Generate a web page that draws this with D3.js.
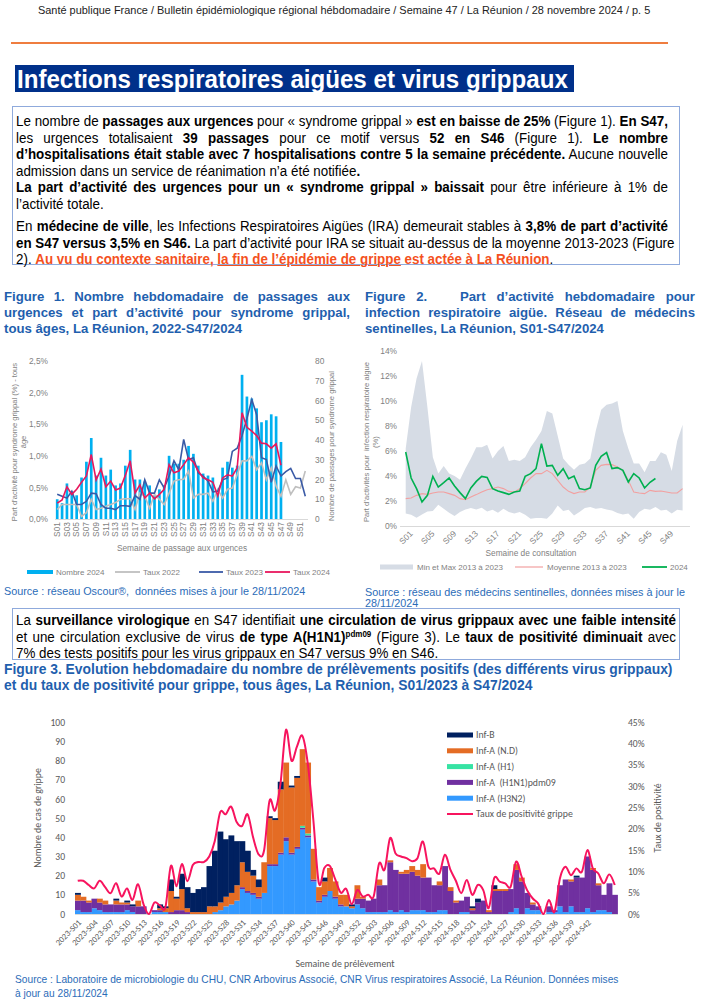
<!DOCTYPE html>
<html lang="fr">
<head>
<meta charset="utf-8">
<title>Bulletin épidémiologique La Réunion S47/2024</title>
<script src="https://cdn.jsdelivr.net/npm/d3@7"></script>
<style>
  body { margin: 0; background: #fff; }
  #page { position: relative; width: 708px; height: 1000px; overflow: hidden; }
  #page svg { position: absolute; left: 0; top: 0; }
  .ln { position: absolute; white-space: nowrap; transform-origin: 0 0; }
  .just { text-align: justify; text-align-last: justify; }
  .red { color: #f4511e; font-weight: bold; }
  sup { font-size: 0.6em; line-height: 0; vertical-align: 0.55em; }
</style>
</head>
<body>
<div id="page"></div>
<script>
// ---------- DATA ----------
const weeks52 = d3.range(1, 53).map(i => "S" + String(i).padStart(2, "0"));

// Figure 1 (Oscour)
const nombre2024 = [10,8,18,14,12,21,29,41,22,31,22,25,17,18,27,35,20,20,19,17,12,15,17,32,28,28,30,37,33,27,23,22,21,13,26,29,26,27,73,62,61,56,49,50,53,52,39];
const taux2022 = [0.15,0.23,0.23,0.23,0.23,0.04,0.10,0.31,0.15,0.17,0.20,0.23,0.26,0.31,0.32,0.32,0.15,0.41,0.36,0.17,0.39,0.31,0.23,0.41,0.60,0.62,0.63,0.76,0.33,0.39,0.39,0.41,0.28,0.47,0.33,0.47,0.49,0.70,0.92,0.92,0.99,0.78,0.89,0.62,0.81,0.52,0.36,0.62,0.39,0.51,0.49,0.76];
const taux2023 = [0.39,0.36,0.33,0.44,0.23,0.23,0.28,0.41,0.40,0.23,0.17,0.17,0.15,0.21,0.21,0.20,0.37,0.31,0.62,0.41,0.41,0.62,0.49,0.68,0.92,0.78,1.26,0.94,0.97,0.73,0.68,0.60,0.43,0.44,0.62,0.65,1.07,1.12,1.32,1.59,1.89,1.65,0.97,0.94,0.58,0.84,0.68,0.75,0.80,0.64,0.64,0.36];
const taux2024 = [0.25,0.30,0.51,0.39,0.47,0.58,0.68,1.02,0.62,0.79,0.51,0.60,0.46,0.49,0.69,0.92,0.41,0.54,0.33,0.41,0.32,0.39,0.47,0.86,0.73,0.76,0.86,0.97,0.90,0.76,0.65,0.62,0.58,0.37,0.65,0.70,0.68,0.81,1.68,1.45,1.39,1.32,1.20,1.19,1.12,1.19,0.85];

// Figure 2 (médecins sentinelles)
const maxIRA = [6.2,9.5,11.8,13.2,9.5,5.5,4.2,4.8,4.2,4.0,3.7,4.6,5.4,6.3,6.3,6.5,5.4,6.0,6.4,5.2,5.3,5.2,5.5,6.3,6.9,7.6,9.2,9.0,7.2,5.4,4.9,4.5,4.9,5.0,5.4,7.6,9.3,9.7,9.8,10.0,7.6,6.2,5.0,5.0,4.3,5.2,5.2,5.9,5.7,4.4,6.8,8.1];
const minIRA = [1.0,0.9,0.67,0.93,1.17,1.2,1.7,1.39,1.07,0.8,1.12,1.33,1.44,1.33,1.46,1.17,1.3,1.07,1.39,1.12,1.0,1.12,0.9,0.59,0.64,0.64,0.59,1.0,1.65,1.2,1.3,0.85,1.12,1.44,1.52,1.39,1.44,1.33,1.25,1.04,0.93,1.0,0.59,1.12,1.39,1.3,1.52,1.25,1.3,1.0,1.3,1.25];
const moyIRA = [2.19,2.24,2.45,2.59,2.53,2.64,2.72,2.72,2.59,2.45,2.19,2.11,2.32,2.51,2.72,2.9,2.99,3.12,2.99,2.77,2.72,2.99,3.39,3.84,4.19,4.19,4.45,4.19,3.65,3.12,2.77,2.59,2.72,2.72,3.12,4.45,4.85,4.93,4.91,4.72,4.45,3.65,2.72,2.64,2.59,2.85,2.77,2.8,2.72,2.64,2.64,2.99];
const ira2024 = [5.92,3.84,2.99,1.92,2.45,3.97,3.12,3.47,3.84,3.2,2.67,2.19,3.04,3.57,3.97,3.89,2.99,2.8,2.67,2.53,2.72,2.8,3.97,4.19,4.59,6.59,4.8,4.85,4.05,4.59,3.79,4.0,2.99,2.9,3.04,4.85,5.57,5.87,4.59,4.67,4.45,3.52,4.19,3.84,3.04,3.5,3.8];

// Figure 3 (prélèvements) : S01/2023 -> S47/2024
const weeks3 = weeks52.map(w => "2023-" + w).concat(weeks52.slice(0, 47).map(w => "2024-" + w));
const h3n2 = [2,1,1,3,2,1,1,1,1,2, 1,0,0,0,1,1,1,0,0,0, 0,0,0,0,0,1,2,4,5,7, 13,11,10,8,11,25,25,31,38,31,
              34,44,40,17,6,9,12,8,4,4, 3,5,3,1,1,1,1,2,1,2, 1,2,2,2,1,1,2,2,0,0, 1,1,0,0,0,0,0,0,0,1,
              3,0,3,2,2,0,1,1,4,1, 4,1,1,3,1,2,2,1,0];
const h1n1 = [5,6,5,5,4,4,4,4,4,3, 3,4,4,0,1,1,0,1,2,2, 1,0,0,0,0,0,0,0,0,0, 1,1,1,1,0,1,1,1,2,1,
              1,1,1,1,1,1,0,1,1,0, 0,3,5,6,7,14,14,25,22,19, 20,20,18,17,18,14,13,23,12,6, 6,8,2,6,7,1,12,12,12,12,
              20,17,8,3,2,0,3,1,11,17, 13,18,18,27,22,13,8,15,10];
const h1 = [0,0,0,0,0,0,0,0,0,0, 0,0,0,0,0,0,0,0,0,0, 0,0,0,0,0,0,0,0,0,0, 0,0,0,0,0,0,0,0,0,0,
            0,1,1,0,0,0,0,0,0,0, 0,0,0,0,0,0,0,0,0,0, 0,0,0,0,0,0,0,0,0,0, 0,0,0,0,0,0,0,0,0,0,
            0,0,0,0,0,0,0,0,0,0, 0,0,0,0,0,0,0,0,0];
const nd = [3,2,1,0,2,2,0,2,1,1, 0,3,0,0,0,1,2,11,6,11, 2,1,1,1,4,3,4,5,6,8, 13,10,9,5,16,24,23,33,39,34,
            36,40,37,16,7,7,12,8,5,6, 1,7,1,0,0,3,0,1,0,1, 2,3,3,7,0,0,2,0,2,1, 0,0,1,0,0,1,1,1,1,0,
            3,2,0,1,0,0,0,0,0,0, 1,0,0,0,1,1,0,0,0];
const infB = [1,0,0,0,0,0,0,1,0,1, 1,0,0,0,0,2,1,6,1,8, 11,10,12,13,21,29,37,30,30,23, 11,11,3,4,0,1,1,4,0,1,
              1,0,0,0,0,2,0,0,0,0, 1,0,0,0,0,0,0,0,0,0, 0,0,0,0,0,0,0,0,0,0, 0,0,1,2,0,0,2,0,0,0,
              0,0,0,0,0,0,0,0,0,0, 0,1,0,0,0,0,0,0,0];
const positivite = [7.8,7.8,6.8,6.0,7.8,6.3,4.9,7.2,4.1,6.0, 3.3,7.0,2.3,0,2.7,2.0,1.6,11.3,6.5,11.7,
                    7.7,11.5,12.2,12.2,13.5,17.1,23.9,23.4,25.2,21.6, 20.7,23.4,18.0,14.0,14.9,26.6,24.3,30.6,43.2,36.0,
                    39.3,41.8,35.1,22.0,7.2,10.8,11.3,8.1,5.0,5.9, 2.3,5.6,4.1,4.5,4.1,11.9,10.4,17.8,14.2,13.5,
                    13.1,12.4,13.1,17.0,11.1,10.7,9.5,13.9,10.4,7.8, 4.9,8.0,4.5,6.8,5.6,1.4,8.4,7.6,7.2,6.4,
                    12.3,8.8,5.6,3.7,2.5,0,3.3,0.5,8.4,11.1, 9.1,10.7,9.9,15.0,10.7,9.5,7.2,9.3,6.8];

// ---------- SETUP ----------
const ARIAL = "'Liberation Sans', Arial, sans-serif";
const CALIBRI = "Carlito, Calibri, Lato, sans-serif";
const BLUE_TITLE = "#1f5fae";
const BLUE_SRC = "#2b6cb8";

const page = d3.select("#page");
const svg = page.append("svg").attr("width", 708).attr("height", 1000);

// one text line positioned by its vertical centre; sx squeezes it horizontally (narrow font look)
function line(x, y, w, html, o = {}) {
  const size = o.size || 14, lh = o.lh || 16, sx = o.sx || 1;
  page.append("div")
    .attr("class", "ln" + (o.justify ? " just" : ""))
    .style("left", x + "px")
    .style("top", (y - lh / 2) + "px")
    .style("width", (w / sx) + "px")
    .style("transform", sx === 1 ? null : `scaleX(${sx})`)
    .style("font", `${o.weight || "normal"} ${size}px/${lh}px ${o.font || ARIAL}`)
    .style("color", o.color || "#000")
    .html(html);
}

// ---------- HEADER ----------
line(38, 10, 620, "Santé publique France / Bulletin épidémiologique régional hébdomadaire / Semaine 47 / La Réunion / 28 novembre 2024 / p. 5",
  { size: 11.5, color: "#222", sx: 0.95 });

svg.append("line").attr("x1", 11).attr("x2", 668).attr("y1", 43).attr("y2", 43)
  .attr("stroke", "#ef7d3f").attr("stroke-width", 2);

svg.append("rect").attr("x", 15).attr("y", 65).attr("width", 559).attr("height", 27).attr("fill", "#00308a");
line(17, 79, 556, "Infections respiratoires aigües et virus grippaux", { size: 26.5, lh: 27, weight: "bold", color: "#fff", sx: 0.91 });

// ---------- TEXT BOX 1 ----------
svg.append("rect").attr("x", 12.5).attr("y", 106.5).attr("width", 667).attr("height", 158)
  .attr("fill", "none").attr("stroke", "#8faadc");
const tb = [
  [121, true, "Le nombre de <b>passages aux urgences</b> pour « syndrome grippal » <b>est en baisse de 25%</b> (Figure 1). <b>En S47,</b>"],
  [137.5, true, "les urgences totalisaient <b>39 passages</b> pour ce motif versus <b>52 en S46</b> (Figure 1). <b>Le nombre</b>"],
  [154, true, "<b>d’hospitalisations était stable avec 7 hospitalisations contre 5 la semaine précédente.</b> Aucune nouvelle"],
  [170.5, false, "admission dans un service de réanimation n’a été notifiée<b>.</b>"],
  [187, true, "<b>La part d’activité des urgences pour un « syndrome grippal » baissait</b> pour être inférieure à 1% de"],
  [203.5, false, "l’activité totale."],
  [226, true, "En <b>médecine de ville</b>, les Infections Respiratoires Aigües (IRA) demeurait stables à <b>3,8% de part d’activité</b>"],
  [242.5, true, "<b>en S47 versus 3,5% en S46.</b> La part d’activité pour IRA se situait au-dessus de la moyenne 2013-2023 (Figure"],
  [259, false, "2). <span class='red'>Au vu du contexte sanitaire, <u>la fin de l’épidémie de grippe</u> est actée à La Réunion</span>."]
];
tb.forEach(([y, j, h]) => line(16, y, 652, h, { justify: j, sx: 0.955 }));

// ---------- FIGURE TITLES ----------
const titleOpt = { size: 13.2, weight: "bold", color: BLUE_TITLE };
line(4, 297, 346, "Figure 1. Nombre hebdomadaire de passages aux", { ...titleOpt, justify: true });
line(4, 313, 346, "urgences et part d’activité pour syndrome grippal,", { ...titleOpt, justify: true });
line(4, 329, 346, "tous âges, La Réunion, 2022-S47/2024", titleOpt);

line(365, 297, 330, "Figure 2. &nbsp; Part d’activité hebdomadaire pour", { ...titleOpt, justify: true });
line(365, 313, 330, "infection respiratoire aigüe. Réseau de médecins", { ...titleOpt, justify: true });
line(365, 329, 330, "sentinelles, La Réunion, S01-S47/2024", titleOpt);

// ---------- FIGURE 1 ----------
const f1 = svg.append("g").style("font-family", ARIAL);
const x1 = d3.scaleBand().domain(weeks52).range([54.9, 307.6]).paddingInner(0.45).paddingOuter(0.2);
const y1L = d3.scaleLinear().domain([0, 2.5]).range([519, 361]);
const y1R = d3.scaleLinear().domain([0, 80]).range([519, 361]);
const cx1 = d => x1(d) + x1.bandwidth() / 2;

f1.append("line").attr("x1", 55).attr("x2", 308).attr("y1", 519.5).attr("y2", 519.5).attr("stroke", "#d9d9d9");

f1.selectAll("rect.nb").data(nombre2024).join("rect").attr("class", "nb")
  .attr("x", (d, i) => x1(weeks52[i])).attr("width", x1.bandwidth())
  .attr("y", d => y1R(d)).attr("height", d => y1R(0) - y1R(d)).attr("fill", "#00b0f0");

const line1 = d3.line().x((d, i) => cx1(weeks52[i])).y(d => y1L(d));
[[taux2022, "#bfbfbf"], [taux2023, "#3a5aa6"], [taux2024, "#e8175d"]].forEach(([s, c]) => {
  f1.append("path").datum(s).attr("d", line1).attr("fill", "none").attr("stroke", c).attr("stroke-width", 1.6);
});

const ax1L = f1.append("g").attr("transform", "translate(50,0)")
  .call(d3.axisLeft(y1L).tickValues([0, 0.5, 1, 1.5, 2, 2.5]).tickSize(0).tickPadding(2)
    .tickFormat(d => d.toFixed(1).replace(".", ",") + "%"));
const ax1R = f1.append("g").attr("transform", "translate(313,0)")
  .call(d3.axisRight(y1R).tickValues(d3.range(0, 81, 10)).tickSize(0).tickPadding(2));
const ax1B = f1.append("g").attr("transform", "translate(0,519)")
  .call(d3.axisBottom(x1).tickValues(weeks52.filter((d, i) => i % 2 === 0)).tickSize(0));
ax1B.selectAll("text").attr("x", -3).attr("y", 0).attr("dy", "0.32em")
  .attr("transform", "rotate(-90)").style("text-anchor", "end");
[ax1L, ax1R, ax1B].forEach(a => {
  a.select(".domain").remove();
  a.selectAll("text").attr("fill", "#7f7f7f").style("font-size", "8.4px").style("font-family", ARIAL);
});

f1.append("text").attr("transform", "translate(17,442) rotate(-90)").attr("text-anchor", "middle")
  .attr("fill", "#7f7f7f").style("font-size", "7.6px").text("Part d’activité pour syndrome grippal (%) - tous");
f1.append("text").attr("transform", "translate(25.5,442) rotate(-90)").attr("text-anchor", "middle")
  .attr("fill", "#7f7f7f").style("font-size", "7.6px").text("âge");
f1.append("text").attr("transform", "translate(334,446) rotate(-90)").attr("text-anchor", "middle")
  .attr("fill", "#7f7f7f").style("font-size", "7.6px").text("Nombre de passages pour syndrome grippal");
f1.append("text").attr("x", 182).attr("y", 551).attr("text-anchor", "middle")
  .attr("fill", "#7f7f7f").style("font-size", "8.3px").text("Semaine de passage aux urgences");

const leg1 = [
  { label: "Nombre 2024", color: "#00b0f0", x: 27, w: 26, thick: 4 },
  { label: "Taux 2022", color: "#bfbfbf", x: 115, w: 25, thick: 1.8 },
  { label: "Taux 2023", color: "#3a5aa6", x: 199, w: 24, thick: 1.8 },
  { label: "Taux 2024", color: "#e8175d", x: 265, w: 25, thick: 1.8 }
];
leg1.forEach(l => {
  f1.append("line").attr("x1", l.x).attr("x2", l.x + l.w).attr("y1", 572).attr("y2", 572)
    .attr("stroke", l.color).attr("stroke-width", l.thick);
  f1.append("text").attr("x", l.x + l.w + 3).attr("y", 572).attr("dy", "0.35em")
    .attr("fill", "#7f7f7f").style("font-size", "8px").text(l.label);
});
line(4, 591, 340, "Source : réseau Oscour®, &nbsp;données mises à jour le 28/11/2024", { size: 10.8, color: BLUE_SRC, lh: 12 });

// ---------- FIGURE 2 ----------
const f2 = svg.append("g").style("font-family", ARIAL);
const x2 = d3.scalePoint().domain(weeks52).range([405.7, 682.6]);
const y2 = d3.scaleLinear().domain([0, 14]).range([526, 351]);

f2.append("path").datum(weeks52)
  .attr("d", d3.area().x(d => x2(d)).y0((d, i) => y2(minIRA[i])).y1((d, i) => y2(maxIRA[i])))
  .attr("fill", "#d6dce5");
f2.append("line").attr("x1", 400).attr("x2", 690).attr("y1", 526.5).attr("y2", 526.5).attr("stroke", "#d9d9d9");
const line2 = d3.line().x((d, i) => x2(weeks52[i])).y(d => y2(d));
f2.append("path").datum(moyIRA).attr("d", line2).attr("fill", "none").attr("stroke", "#f2a0a0").attr("stroke-width", 1.1);
f2.append("path").datum(ira2024).attr("d", line2).attr("fill", "none").attr("stroke", "#00b050").attr("stroke-width", 1.6);

const ax2L = f2.append("g").attr("transform", "translate(397,0)")
  .call(d3.axisLeft(y2).tickValues(d3.range(0, 15, 2)).tickSize(0).tickPadding(0).tickFormat(d => d + "%"));
const ax2B = f2.append("g").attr("transform", "translate(0,526)")
  .call(d3.axisBottom(x2).tickValues(weeks52.filter((d, i) => i % 4 === 0)).tickSize(0));
ax2B.selectAll("text").attr("x", 0).attr("y", 0).attr("dy", "0.35em")
  .attr("transform", "translate(5,6) rotate(-45)").style("text-anchor", "end");
[ax2L, ax2B].forEach(a => {
  a.select(".domain").remove();
  a.selectAll("text").attr("fill", "#7f7f7f").style("font-size", "8.4px").style("font-family", ARIAL);
});
f2.append("text").attr("transform", "translate(369,442) rotate(-90)").attr("text-anchor", "middle")
  .attr("fill", "#7f7f7f").style("font-size", "7.6px").text("Part d’activités pour \u00a0infection respiratoire aigue");
f2.append("text").attr("transform", "translate(377.5,442) rotate(-90)").attr("text-anchor", "middle")
  .attr("fill", "#7f7f7f").style("font-size", "7.6px").text("(%)");
f2.append("text").attr("x", 531).attr("y", 556).attr("text-anchor", "middle")
  .attr("fill", "#7f7f7f").style("font-size", "8.3px").text("Semaine de consultation");

f2.append("rect").attr("x", 380).attr("y", 564.5).attr("width", 33).attr("height", 5).attr("fill", "#d6dce5");
f2.append("text").attr("x", 417).attr("y", 567).attr("dy", "0.35em").attr("fill", "#7f7f7f").style("font-size", "8px").text("Min et Max 2013 à 2023");
f2.append("line").attr("x1", 515).attr("x2", 543).attr("y1", 567).attr("y2", 567).attr("stroke", "#f2a0a0").attr("stroke-width", 1.2);
f2.append("text").attr("x", 547).attr("y", 567).attr("dy", "0.35em").attr("fill", "#7f7f7f").style("font-size", "8px").text("Moyenne 2013 à 2023");
f2.append("line").attr("x1", 642).attr("x2", 667).attr("y1", 567).attr("y2", 567).attr("stroke", "#00b050").attr("stroke-width", 1.8);
f2.append("text").attr("x", 670).attr("y", 567).attr("dy", "0.35em").attr("fill", "#7f7f7f").style("font-size", "8px").text("2024");

line(365, 591.5, 340, "Source : réseau des médecins sentinelles, données mises à jour le", { size: 10.8, color: BLUE_SRC, lh: 12 });
line(365, 603, 100, "28/11/2024", { size: 10.8, color: BLUE_SRC, lh: 12 });

// ---------- TEXT BOX 2 ----------
svg.append("rect").attr("x", 12.5).attr("y", 608.5).attr("width", 667).attr("height", 51)
  .attr("fill", "#fff").attr("stroke", "#8faadc");
line(16, 620, 660, "La <b>surveillance virologique</b> en S47 identifiait <b>une circulation de virus grippaux avec une faible intensité</b>", { justify: true, sx: 0.955 });
line(16, 636.5, 660, "et une circulation exclusive de virus <b>de type A(H1N1)<sup>pdm09</sup></b> (Figure 3). Le <b>taux de positivité diminuait</b> avec", { justify: true, sx: 0.955 });
line(16, 653, 660, "7% des tests positifs pour les virus grippaux en S47 versus 9% en S46.", { sx: 0.955 });

line(4, 669, 700, "Figure 3. Evolution hebdomadaire du nombre de prélèvements positifs (des différents virus grippaux)", { size: 14, weight: "bold", color: BLUE_TITLE, sx: 0.99 });
line(4, 685, 700, "et du taux de positivité pour grippe, tous âges, La Réunion, S01/2023 à S47/2024", { size: 14, weight: "bold", color: BLUE_TITLE, sx: 0.99 });

// ---------- FIGURE 3 ----------
const f3 = svg.append("g").style("font-family", CALIBRI);
const x3 = d3.scaleBand().domain(weeks3).range([75, 617.5]).padding(0);
const y3 = d3.scaleLinear().domain([0, 100]).range([914, 722.3]);
const y3R = d3.scaleLinear().domain([0, 45]).range([914, 722.3]);

const rows3 = weeks3.map((w, i) => ({ week: w, h3n2: h3n2[i], h1n1: h1n1[i], h1: h1[i], nd: nd[i], infB: infB[i] }));
const keys3 = ["h3n2", "h1n1", "h1", "nd", "infB"];
const col3 = { infB: "#002060", nd: "#e46c24", h1: "#36e3a3", h1n1: "#7030a0", h3n2: "#3399ff" };
const stack3 = d3.stack().keys(keys3)(rows3);

f3.selectAll("g.layer").data(stack3).join("g").attr("class", "layer").attr("fill", d => col3[d.key])
  .selectAll("rect").data(d => d).join("rect")
  .attr("x", d => x3(d.data.week)).attr("width", x3.bandwidth() + 0.4)
  .attr("y", d => y3(d[1])).attr("height", d => y3(d[0]) - y3(d[1]));

f3.append("line").attr("x1", 75).attr("x2", 618).attr("y1", 914.5).attr("y2", 914.5).attr("stroke", "#d9d9d9");

f3.append("path").datum(positivite)
  .attr("d", d3.line().x((d, i) => x3(weeks3[i]) + x3.bandwidth() / 2).y(d => y3R(d)).curve(d3.curveCardinal.tension(0)))
  .attr("fill", "none").attr("stroke", "#f7145e").attr("stroke-width", 2);

const ax3L = f3.append("g").attr("transform", "translate(66,0)")
  .call(d3.axisLeft(y3).tickValues(d3.range(0, 101, 10)).tickSize(0).tickPadding(1));
const ax3R = f3.append("g").attr("transform", "translate(627,0)")
  .call(d3.axisRight(y3R).tickValues(d3.range(0, 46, 5)).tickSize(0).tickPadding(1).tickFormat(d => d + "%"));
const ax3B = f3.append("g").attr("transform", "translate(0,914)")
  .call(d3.axisBottom(x3).tickValues(weeks3.filter((d, i) => i % 3 === 0 && i <= 93)).tickSize(0));
ax3B.selectAll("text").attr("x", 0).attr("y", 0).attr("dy", "0.35em")
  .attr("transform", "translate(2,7) rotate(-45)").style("text-anchor", "end");
[ax3L, ax3R, ax3B].forEach(a => {
  a.select(".domain").remove();
  a.selectAll("text").attr("fill", "#595959").style("font-size", "9.6px").style("font-family", CALIBRI);
});
ax3B.selectAll("text").style("font-size", "8.5px");

f3.append("text").attr("transform", "translate(41,818) rotate(-90)").attr("text-anchor", "middle")
  .attr("fill", "#595959").style("font-size", "9.8px").text("Nombre de cas de grippe");
f3.append("text").attr("transform", "translate(661,818) rotate(-90)").attr("text-anchor", "middle")
  .attr("fill", "#595959").style("font-size", "9.8px").text("Taux de positivité");
f3.append("text").attr("x", 345).attr("y", 967).attr("text-anchor", "middle")
  .attr("fill", "#595959").style("font-size", "9.8px").text("Semaine de prélèvement");

const leg3 = [
  { key: "infB", label: "Inf-B" },
  { key: "nd", label: "Inf-A (N.D)" },
  { key: "h1", label: "Inf-A (H1)" },
  { key: "h1n1", label: "Inf-A \u00a0(H1N1)pdm09" },
  { key: "h3n2", label: "Inf-A (H3N2)" }
];
leg3.forEach((l, i) => {
  const y = 735 + i * 15.8;
  f3.append("rect").attr("x", 447).attr("y", y - 2.5).attr("width", 26).attr("height", 5).attr("fill", col3[l.key]);
  f3.append("text").attr("x", 476).attr("y", y).attr("dy", "0.35em").attr("fill", "#595959").style("font-size", "9.8px").text(l.label);
});
f3.append("line").attr("x1", 447).attr("x2", 473).attr("y1", 814).attr("y2", 814).attr("stroke", "#f7145e").attr("stroke-width", 2);
f3.append("text").attr("x", 476).attr("y", 814).attr("dy", "0.35em").attr("fill", "#595959").style("font-size", "9.8px").text("Taux de positivité grippe");

line(15, 980, 680, "Source : Laboratoire de microbiologie du CHU, CNR Arbovirus Associé, CNR Virus respiratoires Associé, La Réunion. Données mises", { size: 10.2, color: BLUE_SRC, lh: 12 });
line(15, 994, 300, "à jour au 28/11/2024", { size: 10.2, color: BLUE_SRC, lh: 12 });
</script>
</body>
</html>
